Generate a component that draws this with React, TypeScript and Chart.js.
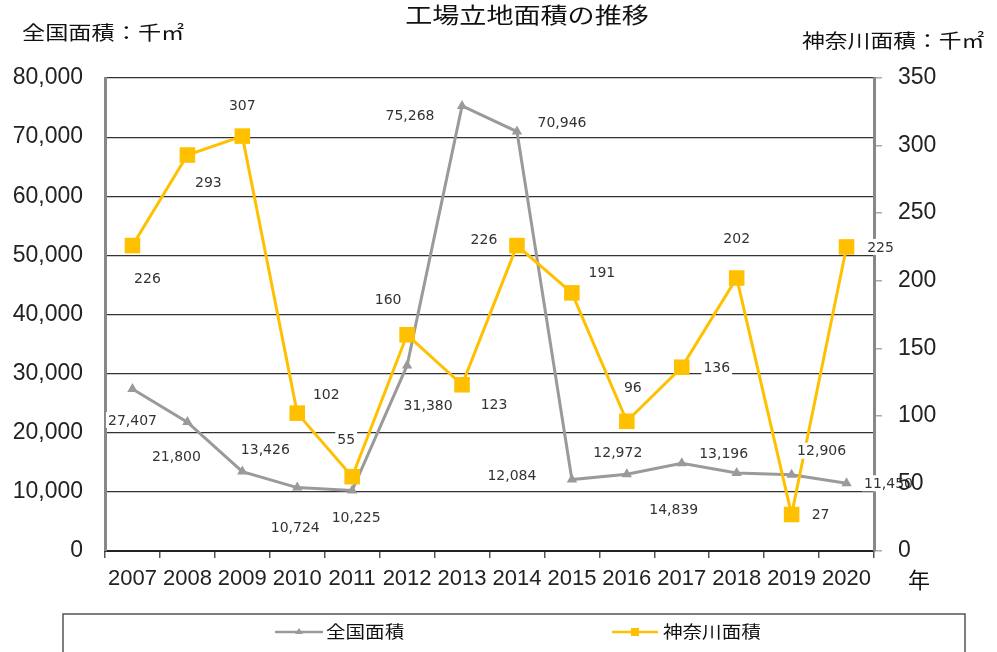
import React, { useEffect, useRef } from "react";
import { Chart, registerables } from "chart.js";

Chart.register(...registerables);

const years = ["2007", "2008", "2009", "2010", "2011", "2012", "2013", "2014", "2015", "2016", "2017", "2018", "2019", "2020"];
const nationalArea = [27407, 21800, 13426, 10724, 10225, 31380, 75268, 70946, 12084, 12972, 14839, 13196, 12906, 11450];
const kanagawaArea = [226, 293, 307, 102, 55, 160, 123, 226, 191, 96, 136, 202, 27, 225];
const nationalLabel = "全国面積";
const kanagawaLabel = "神奈川面積";
const chartTitle = "工場立地面積の推移";
const leftAxisTitle = "全国面積：千㎡";
const rightAxisTitle = "神奈川面積：千㎡";
const yearUnit = "年";

// label placement offsets (pixels) relative to each point
const nationalLabelOffsets = [[0, 31], [-11, 34], [23, -22], [-2, 40], [4, 27], [21, 40], [-52, 9], [45, -9], [-60, -4], [-9, -22], [-8, 46], [-13, -20], [30, -24], [42, 0]];
const kanagawaLabelOffsets = [[15, 33], [21, 27], [0, -31], [29, -19], [-6, -37], [-19, -35], [32, 20], [-33, -6], [30, -21], [6, -34], [35, 0], [0, -40], [29, 0], [34, 0]];

const GRAY = "#9a9a9a";
const GOLD = "#FFC000";
const JP = '"Noto Sans CJK JP", "Noto Sans", sans-serif';

function stretchText(ctx: CanvasRenderingContext2D, text: string, x: number, y: number, font: string, sx: number, align: string, color: string) {
  ctx.save();
  ctx.font = font;
  ctx.fillStyle = color;
  ctx.textBaseline = "middle";
  ctx.textAlign = "left";
  const w = ctx.measureText(text).width * sx;
  const left = align === "center" ? x - w / 2 : align === "right" ? x - w : x;
  ctx.translate(left, y);
  ctx.scale(sx, 1);
  ctx.fillText(text, 0, 0);
  ctx.restore();
}

const labelPlugin = {
  id: "pointLabels",
  afterDatasetsDraw(chart: any) {
    const ctx = chart.ctx as CanvasRenderingContext2D;
    const sets = [
      { idx: 0, offs: kanagawaLabelOffsets },
      { idx: 1, offs: nationalLabelOffsets },
    ];
    ctx.save();
    ctx.font = '14px "DejaVu Sans", sans-serif';
    ctx.textAlign = "center";
    ctx.textBaseline = "middle";
    for (const s of sets) {
      const meta = chart.getDatasetMeta(s.idx);
      const data = chart.data.datasets[s.idx].data as number[];
      meta.data.forEach((pt: any, i: number) => {
        const text = data[i].toLocaleString("en-US");
        const x = pt.x + s.offs[i][0];
        const y = pt.y + s.offs[i][1];
        const w = ctx.measureText(text).width + 4;
        ctx.fillStyle = "#ffffff";
        ctx.fillRect(x - w / 2, y - 8, w, 16);
        ctx.fillStyle = "#333333";
        ctx.fillText(text, x, y + 1);
      });
    }
    ctx.restore();
  },
  afterDraw(chart: any) {
    const ctx = chart.ctx as CanvasRenderingContext2D;
    stretchText(ctx, chartTitle, 527, 15, `22px ${JP}`, 1.23, "center", "#111");
    stretchText(ctx, leftAxisTitle, 22, 33, `19px ${JP}`, 1.22, "left", "#111");
    stretchText(ctx, rightAxisTitle, 802, 41, `19px ${JP}`, 1.2, "left", "#111");
    stretchText(ctx, yearUnit, 919, 580, `22px ${JP}`, 1.0, "center", "#111");

    // legend box
    ctx.save();
    ctx.strokeStyle = "#555";
    ctx.lineWidth = 1.5;
    ctx.beginPath();
    ctx.moveTo(63, 660);
    ctx.lineTo(63, 614);
    ctx.lineTo(965, 614);
    ctx.lineTo(965, 660);
    ctx.stroke();

    // gray entry
    ctx.strokeStyle = GRAY;
    ctx.lineWidth = 2.5;
    ctx.beginPath();
    ctx.moveTo(275, 632);
    ctx.lineTo(323, 632);
    ctx.stroke();
    ctx.fillStyle = GRAY;
    ctx.beginPath();
    ctx.moveTo(299, 628);
    ctx.lineTo(303, 634);
    ctx.lineTo(295, 634);
    ctx.closePath();
    ctx.fill();

    // gold entry
    ctx.strokeStyle = GOLD;
    ctx.beginPath();
    ctx.moveTo(612, 632);
    ctx.lineTo(658, 632);
    ctx.stroke();
    ctx.fillStyle = GOLD;
    ctx.fillRect(631, 628, 8, 8);
    ctx.restore();

    stretchText(ctx, nationalLabel, 326, 632, `17px ${JP}`, 1.15, "left", "#111");
    stretchText(ctx, kanagawaLabel, 663, 632, `17px ${JP}`, 1.15, "left", "#111");
  },
};

export default function App() {
  const ref = useRef<HTMLCanvasElement | null>(null);
  useEffect(() => {
    if (!ref.current) return;
    const chart = new Chart(ref.current, {
      type: "line",
      data: {
        labels: years,
        datasets: [
          {
            label: kanagawaLabel,
            data: kanagawaArea,
            yAxisID: "y1",
            borderColor: GOLD,
            backgroundColor: GOLD,
            borderWidth: 3,
            pointStyle: "rect",
            pointRadius: 11,
            pointBorderWidth: 0,
            pointBackgroundColor: GOLD,
            tension: 0,
            order: 0,
          },
          {
            label: nationalLabel,
            data: nationalArea,
            yAxisID: "y",
            borderColor: GRAY,
            backgroundColor: GRAY,
            borderWidth: 3,
            pointStyle: "triangle",
            pointRadius: 6,
            pointBorderWidth: 0,
            pointBackgroundColor: GRAY,
            tension: 0,
            order: 1,
          },
        ],
      },
      options: {
        responsive: false,
        animation: false,
        devicePixelRatio: 1,
        layout: { padding: { top: 78, bottom: 61, left: 0, right: 0 } },
        plugins: {
          legend: { display: false },
          title: { display: false },
          tooltip: { enabled: false },
        },
        scales: {
          x: {
            type: "category",
            offset: true,
            grid: { offset: true, drawOnChartArea: false, drawTicks: true, tickLength: 7, color: "#555", lineWidth: 1.5 },
            border: { color: "#222", width: 2 },
            ticks: { font: { family: "Liberation Sans, Arial, sans-serif", size: 22 }, color: "#222", padding: 8, maxRotation: 0, autoSkip: false },
            afterFit: (s: any) => { s.height = 40; },
          },
          y: {
            position: "left",
            min: 0,
            max: 80000,
            grid: { color: "#333", lineWidth: 1.2, drawTicks: false },
            border: { color: "#888", width: 3 },
            ticks: {
              stepSize: 10000,
              padding: 22,
              color: "#222",
              font: { family: "Liberation Sans, Arial, sans-serif", size: 23 },
              callback: (v: any) => Number(v).toLocaleString("en-US"),
            },
            afterFit: (s: any) => { s.width = 105; },
          },
          y1: {
            position: "right",
            min: 0,
            max: 350,
            grid: { drawOnChartArea: false, drawTicks: true, tickLength: 8, color: "#aaa", lineWidth: 1.5 },
            border: { color: "#888", width: 3 },
            ticks: {
              stepSize: 50,
              padding: 16,
              color: "#222",
              z: 1,
              font: { family: "Liberation Sans, Arial, sans-serif", size: 23 },
            },
            afterFit: (s: any) => { s.width = 123; },
          },
        },
      },
      plugins: [labelPlugin],
    } as any);
    return () => chart.destroy();
  }, []);
  return (
    <div style={{ position: "absolute", left: 0, top: 0, width: 997, height: 652, background: "#fff" }}>
      <canvas ref={ref} width={997} height={652} style={{ display: "block" }} />
    </div>
  );
}
